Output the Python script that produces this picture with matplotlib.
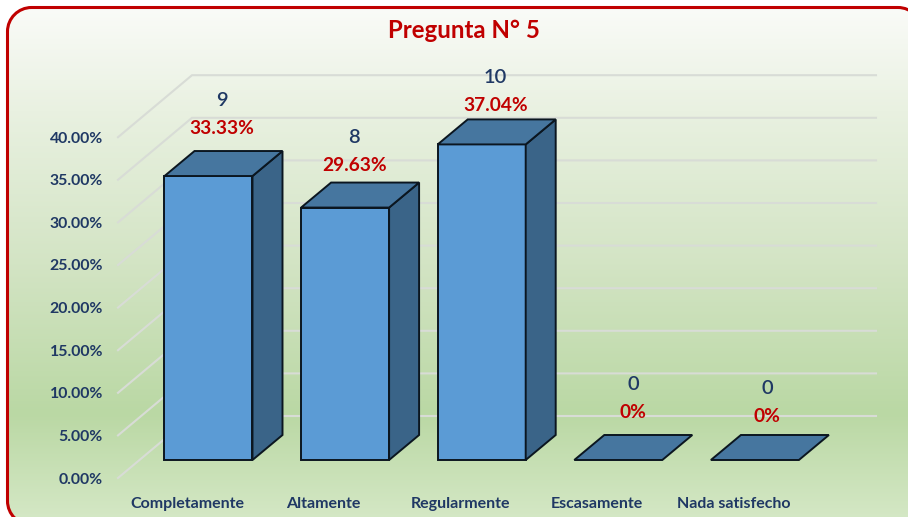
import numpy as np
import matplotlib
matplotlib.use('Agg')
from matplotlib import pyplot as plt
from matplotlib.patches import PathPatch, Polygon
from matplotlib.path import Path
from matplotlib.colors import LinearSegmentedColormap

categories = ['Completamente', 'Altamente', 'Regularmente', 'Escasamente', 'Nada satisfecho']
counts = [9, 8, 10, 0, 0]
percents = [33.33, 29.63, 37.04, 0, 0]
percent_labels = ['33.33%', '29.63%', '37.04%', '0%', '0%']
y_ticks = [0, 5, 10, 15, 20, 25, 30, 35, 40]

plt.rcParams['font.family'] = ['Lato', 'DejaVu Sans']

NAVY = '#1F3864'
RED = '#C00000'
FRONT = '#5B9BD5'
TOP = '#46769F'
SIDE = '#3A6488'
EDGE = '#0B1620'
GRID = '#D8DCD6'

W, H = 908, 517
# pixel layout of the front plane
X0, X_STEP = 208.5, 136.6
Y0, Y_UNIT = 460, 8.52

fig = plt.figure(figsize=(W / 100, H / 100), dpi=100, facecolor='white')

# background panel with gradient
bg = fig.add_axes([0, 0, 1, 1])
bg.set_xlim(0, W)
bg.set_ylim(H, 0)
bg.axis('off')
cmap = LinearSegmentedColormap.from_list('panel', [
    (0.0, '#FAFBF8'), (0.2, '#E9F1E1'), (0.5, '#D3E4C4'),
    (0.79, '#BAD8A4'), (1.0, '#D5E8C6')])
grad = np.linspace(0, 1, 256).reshape(-1, 1)
im = bg.imshow(grad, cmap=cmap, extent=[7, 920, 522, 7], aspect='auto', zorder=1)
bg.set_xlim(0, W)
bg.set_ylim(H, 0)


def rounded_rect(l, t, r, b, rad):
    k = rad * 0.45
    verts = [(l + rad, t), (r - rad, t),
             (r - k, t), (r, t + k), (r, t + rad), (r, b - rad),
             (r, b - k), (r - k, b), (r - rad, b), (l + rad, b),
             (l + k, b), (l, b - k), (l, b - rad), (l, t + rad),
             (l, t + k), (l + k, t), (l + rad, t), (l + rad, t)]
    codes = [Path.MOVETO, Path.LINETO,
             Path.CURVE4, Path.CURVE4, Path.CURVE4, Path.LINETO,
             Path.CURVE4, Path.CURVE4, Path.CURVE4, Path.LINETO,
             Path.CURVE4, Path.CURVE4, Path.CURVE4, Path.LINETO,
             Path.CURVE4, Path.CURVE4, Path.CURVE4, Path.CLOSEPOLY]
    return Path(verts, codes)


# almost invisible face: with no face agg clips the curve to the canvas and bends it
frame = PathPatch(rounded_rect(7.5, 7.5, 922, 525, 24), fc=(1, 1, 1, 0.002), ec=RED, lw=2.2,
                  zorder=3, clip_on=False)
bg.add_patch(frame)
im.set_clip_path(frame)

# chart axes: x = category index, y = percent
ax = fig.add_axes([0, 0, 1, 1])
ax.patch.set_alpha(0)
ax.set_xlim(-X0 / X_STEP, (W - X0) / X_STEP)
ax.set_ylim(-(H - Y0) / Y_UNIT, Y0 / Y_UNIT)
ax.axis('off')


def dx(px):
    return px / X_STEP


def dy(px):
    return px / Y_UNIT


half = dx(44)
depth_x, depth_y = dx(30), dy(25)

# wall gridlines with the angled floor part
wall_left = dx(118 - X0)
wall_back = dx(192 - X0)
wall_right = dx(876 - X0)
for v in y_ticks:
    y_front = v - dy(18)
    y_back = v + dy(44)
    ax.plot([wall_left, wall_back, wall_right], [y_front, y_back, y_back],
            color=GRID, lw=1.5, zorder=1, solid_joinstyle='miter')
    ax.text(dx(103 - X0), y_front - dy(1.5), '%.2f%%' % v, ha='right', va='center',
            color=NAVY, fontsize=11.4, fontweight='bold')

# bars
for i, v in enumerate(percents):
    l, r = i - half, i + half
    if v > 0:
        ax.add_patch(Polygon([(l, 0), (r, 0), (r, v), (l, v)], closed=True,
                             fc=FRONT, ec=EDGE, lw=1.4, zorder=3))
        ax.add_patch(Polygon([(r, 0), (r + depth_x, depth_y), (r + depth_x, v + depth_y), (r, v)],
                             closed=True, fc=SIDE, ec=EDGE, lw=1.4, zorder=3))
    ax.add_patch(Polygon([(l, v), (r, v), (r + depth_x, v + depth_y), (l + depth_x, v + depth_y)],
                         closed=True, fc=TOP, ec=EDGE, lw=1.4, zorder=3))

# data labels, manually placed like in the original
label_dx = [13.5, 9, 13.5, 15, 12]
label_dy = [48, 41.6, 39, 47, 43]
for i, v in enumerate(percents):
    ax.annotate(percent_labels[i], (i, v), xytext=(label_dx[i], label_dy[i]),
                textcoords='offset pixels', ha='center', va='center',
                color=RED, fontsize=13.8, fontweight='bold', zorder=5)
    ax.annotate(str(counts[i]), (i, v), xytext=(label_dx[i], label_dy[i] + 28),
                textcoords='offset pixels', ha='center', va='center',
                color=NAVY, fontsize=14.5, fontweight='semibold', zorder=5)

for i, name in enumerate(categories):
    ax.text(i - dx(21.5), -dy(44), name, ha='center', va='center',
            color=NAVY, fontsize=11.5, fontweight='bold')

ax.text(dx(464 - X0), dy(Y0 - 31), 'Pregunta N° 5', ha='center', va='center',
        color=RED, fontsize=17.3, fontweight='bold')

fig.savefig('out.png', dpi=100)
